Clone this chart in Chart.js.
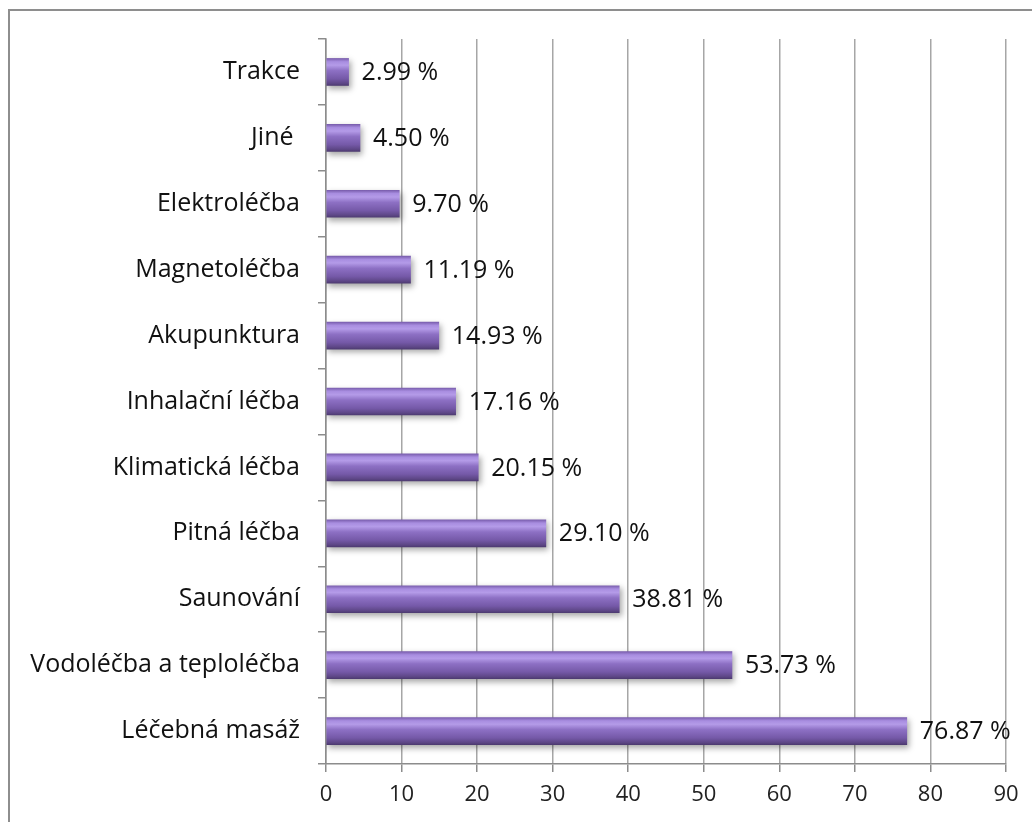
<!DOCTYPE html>
<html>
<head>
<meta charset="utf-8">
<script src="https://cdn.jsdelivr.net/npm/chart.js@4/dist/chart.umd.min.js"></script>
<style>
  html, body { margin: 0; padding: 0; background: #fff; }
  #frame { position: absolute; left: 8px; top: 9px; width: 1100px; height: 900px; border: 2px solid #8e8e8e; }
  #wrap { position: absolute; left: 0; top: 0; width: 1032px; height: 822px; }
</style>
</head>
<body>
<div id="frame"></div>
<div id="wrap"><canvas id="chart" width="1032" height="822"></canvas></div>
<script>
// data
const categories = ["Trakce", "Jiné ", "Elektroléčba", "Magnetoléčba", "Akupunktura", "Inhalační léčba",
  "Klimatická léčba", "Pitná léčba", "Saunování", "Vodoléčba a teploléčba", "Léčebná masáž"];
const values = [2.99, 4.50, 9.70, 11.19, 14.93, 17.16, 20.15, 29.10, 38.81, 53.73, 76.87];
const xTicks = [0, 10, 20, 30, 40, 50, 60, 70, 80, 90];

const BAR_H = 27;
const FONT = "'Open Sans', Lato, sans-serif";

// purple cylinder look, gradient per bar
function barFill(ctx){
  let chart = ctx.chart;
  let ys = chart.scales.y;
  if(!ys || ctx.dataIndex === undefined) return "#8066b8";
  let c = ys.getPixelForValue(ctx.dataIndex);
  if(!isFinite(c)) return "#8066b8";
  let top = c - BAR_H/2, bot = c + BAR_H/2;
  let g = chart.ctx.createLinearGradient(0, top, 0, bot);
  g.addColorStop(0, "#7a5eae");
  g.addColorStop(0.12, "#a88de0");
  g.addColorStop(0.25, "#b49be8");
  g.addColorStop(0.45, "#8d70c4");
  g.addColorStop(0.75, "#7559a8");
  g.addColorStop(0.92, "#5e4787");
  g.addColorStop(1, "#4e3b72");
  return g;
}

// shadow under bars
const shadowPlugin = {
  id: "shadow",
  beforeDatasetsDraw(chart){
    let c = chart.ctx;
    c.save();
    c.shadowColor = "rgba(0,0,0,0.35)";
    c.shadowBlur = 6;
    c.shadowOffsetX = 2;
    c.shadowOffsetY = 3;
  },
  afterDatasetsDraw(chart){
    chart.ctx.restore();
  }
};

// value labels to the right of the bars
const labelPlugin = {
  id: "valueLabels",
  afterDatasetsDraw(chart){
    let c = chart.ctx;
    let meta = chart.getDatasetMeta(0);
    c.save();
    c.font = "25px " + FONT;
    c.fillStyle = "#111";
    c.textAlign = "left";
    c.textBaseline = "middle";
    meta.data.forEach((bar, i) => {
      c.fillText(values[i].toFixed(2) + " %", bar.x + 13, bar.y + 1);
    });
    c.restore();
  }
};

new Chart(document.getElementById("chart"), {
  type: "bar",
  data: {
    labels: categories,
    datasets: [{
      data: values,
      backgroundColor: barFill,
      borderWidth: 0,
      barThickness: BAR_H
    }]
  },
  options: {
    indexAxis: "y",
    responsive: false,
    animation: false,
    layout: { padding: { top: 39, right: 26, bottom: 0, left: 0 } },
    plugins: { legend: { display: false }, tooltip: { enabled: false } },
    scales: {
      x: {
        min: 0, max: 90,
        afterBuildTicks: (s) => { s.ticks = xTicks.map(v => ({ value: v })); },
        afterFit: (s) => { s.height = 58; },
        grid: { color: "#a6a6a6", lineWidth: 1.5, drawTicks: true, tickLength: 8, tickColor: "#8c8c8c" },
        border: { color: "#8c8c8c", width: 1.5 },
        ticks: { color: "#222", font: { size: 22, family: FONT }, padding: 10 }
      },
      y: {
        afterFit: (s) => { s.width = 326; },
        grid: { offset: true, drawOnChartArea: false, drawTicks: true, tickLength: 8, color: "#8c8c8c", lineWidth: 1.5 },
        border: { color: "#8c8c8c", width: 1.5 },
        ticks: { color: "#111", font: { size: 25, family: FONT }, padding: 18, autoSkip: false }
      }
    }
  },
  plugins: [shadowPlugin, labelPlugin]
});
</script>
</body>
</html>
